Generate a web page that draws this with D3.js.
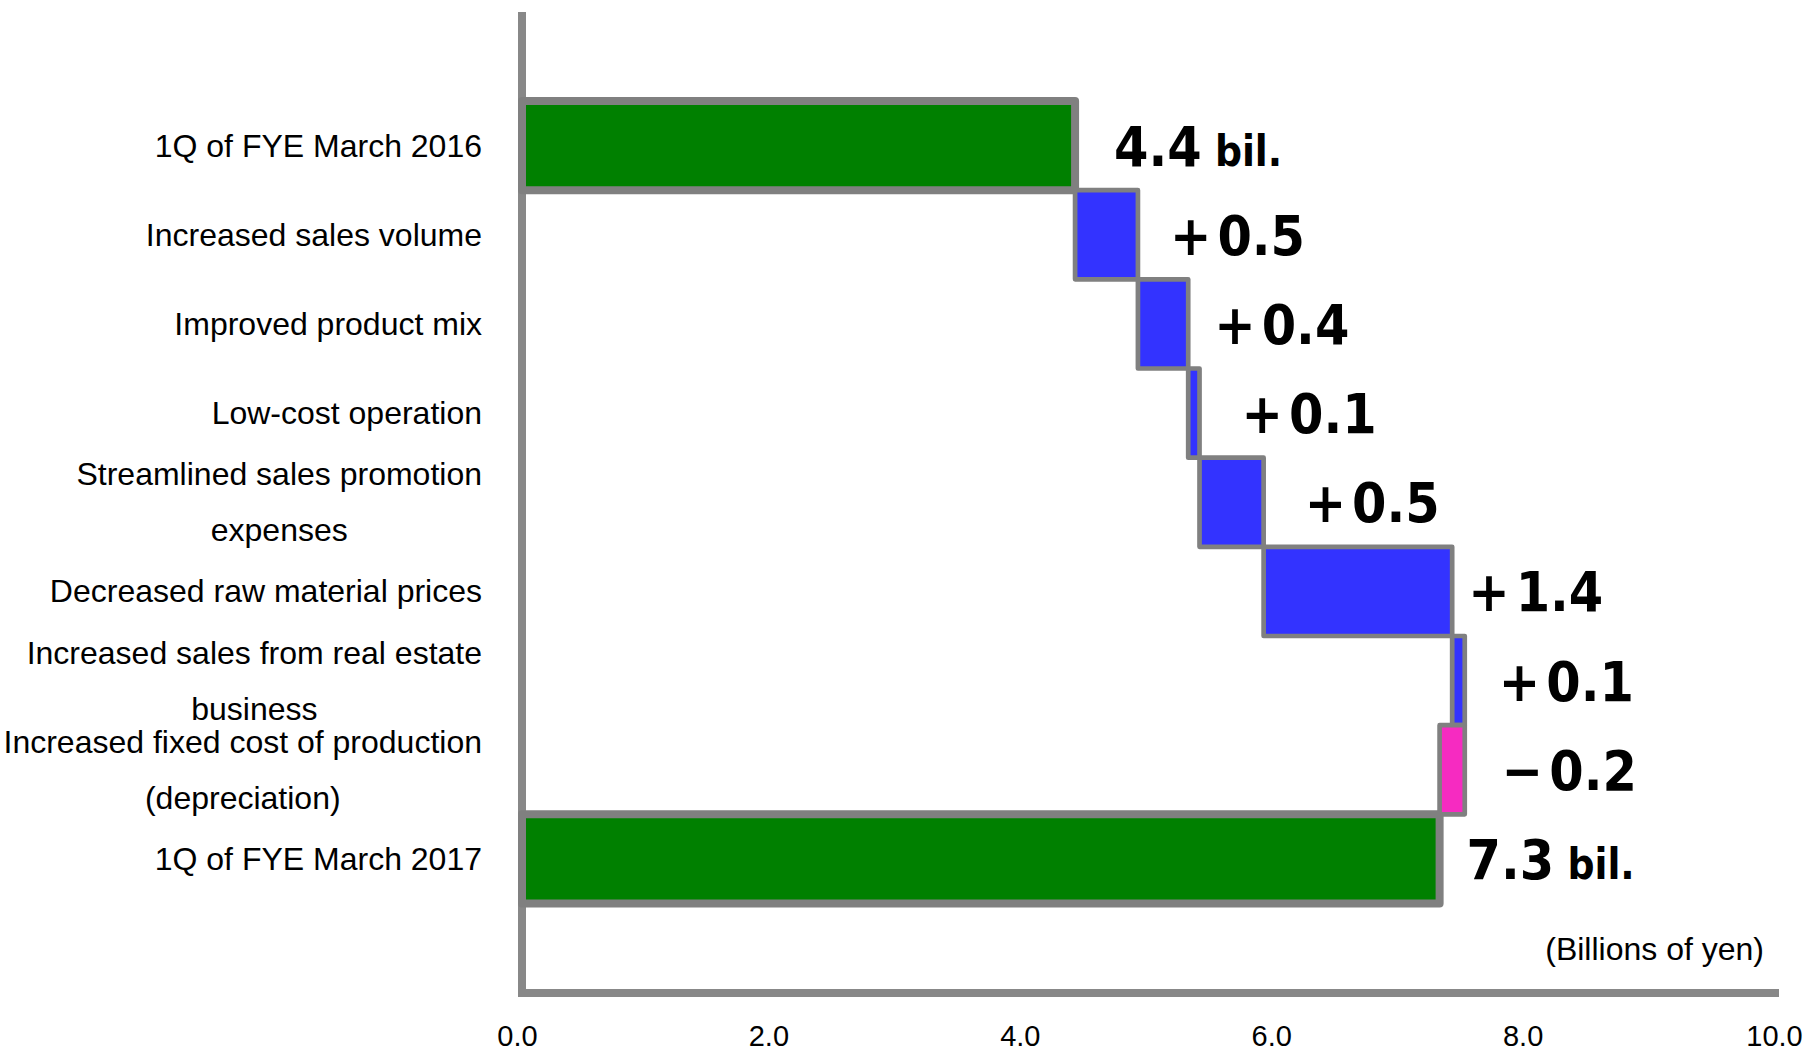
<!DOCTYPE html>
<html>
<head>
<meta charset="utf-8">
<script src="https://cdn.jsdelivr.net/npm/d3@7"></script>
<style>
  html, body { margin: 0; padding: 0; background: #fff; }
  svg { display: block; }
</style>
</head>
<body>
<svg id="chart" width="1808" height="1052"></svg>
<script>
// ---------- data ----------
const categories = [
  "1Q of FYE March 2016",
  "Increased sales volume",
  "Improved product mix",
  "Low-cost operation",
  "Streamlined sales promotion\nexpenses",
  "Decreased raw material prices",
  "Increased sales from real estate\nbusiness",
  "Increased fixed cost of production\n(depreciation)",
  "1Q of FYE March 2017"
];
const startValue = 4.4;
const deltas = [0.5, 0.4, 0.09, 0.51, 1.5, 0.1, -0.2];
const endValue = 7.3;
const valueSigns = ["", "+", "+", "+", "+", "+", "+", "\u2212", ""];
const valueLabels = ["4.4", "0.5", "0.4", "0.1", "0.5", "1.4", "0.1", "0.2", "7.3"];
const totalSuffix = "bil.";
const xTicks = [0, 2, 4, 6, 8, 10];
const unitLabel = "(Billions of yen)";

// ---------- layout ----------
const axisX = 522, axisTop = 12, axisY = 993, axisRight = 1779;
const labelRight = 482;
const labelDx = [39, 32, 26, 42, 41, 16, 34, 37, 27];
const colors = { total: "#008000", up: "#3333FF", down: "#F62BC1", stroke: "#808080", axis: "#888888" };

// build segments
const rows = [];
let run = startValue;
rows.push({ cat: categories[0], x0: 0, x1: startValue, type: "total" });
deltas.forEach((d, i) => {
  rows.push({ cat: categories[i + 1], x0: run, x1: run + d, type: d >= 0 ? "up" : "down" });
  run += d;
});
rows.push({ cat: categories[categories.length - 1], x0: 0, x1: endValue, type: "total" });
rows.forEach((r, i) => { r.label = valueLabels[i]; r.sign = valueSigns[i]; r.i = i; });

const x = d3.scaleLinear().domain([0, 10]).range([axisX, axisRight]);
const y = d3.scaleBand().domain(categories).range([101, 903.5]).padding(0);

const svg = d3.select("#chart");

// axes lines
svg.append("line")
  .attr("x1", axisX).attr("x2", axisX).attr("y1", axisTop).attr("y2", axisY)
  .attr("stroke", colors.axis).attr("stroke-width", 8);
svg.append("line")
  .attr("x1", axisX - 4).attr("x2", axisRight).attr("y1", axisY).attr("y2", axisY)
  .attr("stroke", colors.axis).attr("stroke-width", 8);

// bars (totals first, then deltas)
const ordered = rows.filter(r => r.type === "total").concat(rows.filter(r => r.type !== "total"));
svg.append("g").selectAll("rect").data(ordered).join("rect")
  .attr("x", d => x(Math.min(d.x0, d.x1)))
  .attr("y", d => y(d.cat))
  .attr("width", d => Math.abs(x(d.x1) - x(d.x0)))
  .attr("height", y.bandwidth())
  .attr("fill", d => colors[d.type])
  .attr("stroke", colors.stroke)
  .attr("stroke-width", d => d.type === "total" ? 8 : 4.7)
  .attr("stroke-linejoin", "round");

// value labels
const vl = svg.append("g").selectAll("text").data(rows).join("text")
  .attr("x", d => x(Math.max(d.x0, d.x1)) + labelDx[d.i])
  .attr("y", d => y(d.cat) + y.bandwidth() / 2 + 20)
  .attr("font-family", "'DejaVu Sans Condensed', 'DejaVu Sans', sans-serif")
  .attr("font-stretch", "condensed")
  .attr("font-weight", "bold")
  .attr("font-size", 55)
  .attr("fill", "#000");
vl.filter(d => d.sign).append("tspan").text(d => d.sign);
vl.append("tspan").attr("dx", d => d.sign ? 6 : 0).text(d => d.label);
vl.filter(d => d.type === "total").append("tspan")
  .attr("font-size", 42).text(" " + totalSuffix);

// category labels
const cg = svg.append("g")
  .attr("font-family", "'Liberation Sans', Arial, sans-serif")
  .attr("font-size", 32).attr("fill", "#000");
rows.forEach(r => {
  const lines = r.cat.split("\n");
  const cy = y(r.cat) + y.bandwidth() / 2;
  const lh = 56;
  const t = cg.append("g");
  const texts = lines.map((ln, k) => t.append("text")
    .attr("y", cy + (k - (lines.length - 1) / 2) * lh + 11)
    .attr("text-anchor", "middle")
    .text(ln));
  const maxW = d3.max(texts, tx => tx.node().getComputedTextLength());
  texts.forEach(tx => tx.attr("x", labelRight - maxW / 2));
});

// x tick labels
const xAxis = d3.axisBottom(x).tickValues(xTicks).tickFormat(d3.format(".1f")).tickSize(0);
const ga = svg.append("g").attr("transform", `translate(0,${axisY})`).call(xAxis);
ga.select(".domain").remove();
ga.selectAll("text")
  .attr("font-family", "'Liberation Sans', Arial, sans-serif")
  .attr("font-size", 29)
  .attr("fill", "#000")
  .attr("y", 53).attr("dy", 0).attr("dx", -5);

// unit label
svg.append("text")
  .attr("x", 1764).attr("y", 960)
  .attr("text-anchor", "end")
  .attr("font-family", "'Liberation Sans', Arial, sans-serif")
  .attr("font-size", 32).attr("fill", "#000")
  .text(unitLabel);
</script>
</body>
</html>
